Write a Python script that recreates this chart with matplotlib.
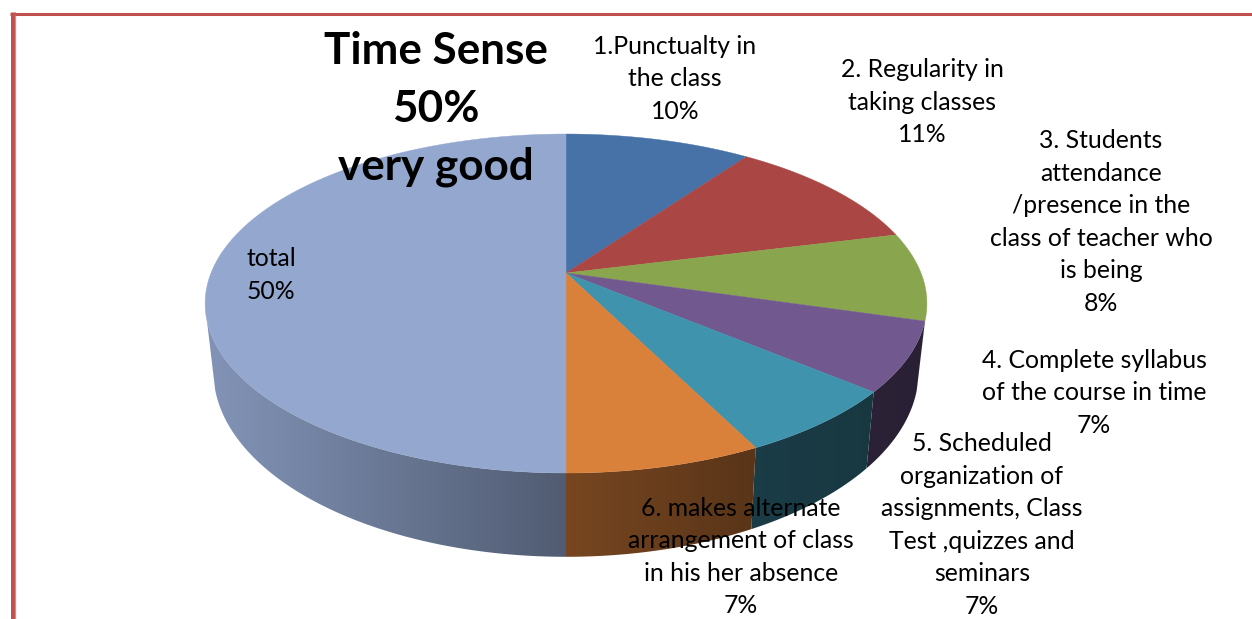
import numpy as np
import matplotlib
matplotlib.use('Agg')
import matplotlib.pyplot as plt
from matplotlib.patches import Polygon

# slice sizes (the printed labels are rounded)
values = [9.9, 11.2, 8.4, 6.6, 6.5, 7.4, 50.0]
labels = ['1.Punctualty in\nthe class\n10%',
          '2. Regularity in\ntaking classes\n11%',
          '3. Students\nattendance\n/presence in the\nclass of teacher who\nis being\n8%',
          '4. Complete syllabus\nof the course in time\n7%',
          '5. Scheduled\norganization of\nassignments, Class\nTest ,quizzes and\nseminars\n7%',
          '6. makes alternate\narrangement of class\nin his her absence\n7%',
          'total\n50%']
colors = ['#4672a8', '#aa4644', '#89a54e', '#71588f', '#4093ac', '#d9803b', '#93a7cf']
label_x = [675, 922, 1101, 1094, 982, 741, 271]
label_y = [79, 102, 222, 393, 525, 557, 275]
title = 'Time Sense\n50%\nvery good'

plt.rcParams['font.family'] = ['Lato', 'DejaVu Sans']

fig = plt.figure(figsize=(12.52, 6.19), dpi=100)
ax = fig.add_axes([0, 0, 1, 1])


cx, cy = 566, 273


# tilted pie: circle seen in perspective, angle measured clockwise from the top
def top_edge(theta):
    u, v = np.sin(theta), np.cos(theta)
    d = 1 + 0.18 * v
    return 355 * u / d, -164 * v / d


def bottom_edge(theta):
    x, y = top_edge(theta)
    return 0.977 * x, 1.094 * y + 65


def shade(x):
    return np.interp(x, [-353, 0, 190, 350], [0.88, 0.55, 0.41, 0.37])


edges = np.radians(np.cumsum([0] + values) * 3.6)
wall_from, wall_to = np.radians(106), np.radians(254)

# side wall first, a horizontal gradient clipped to each slice's wall
for i in range(len(values)):
    a = max(edges[i], wall_from)
    b = min(edges[i + 1], wall_to)
    if b <= a:
        continue
    ts = np.linspace(a, b, 200)
    xt, yt = top_edge(ts)
    xb, yb = bottom_edge(ts)
    px = np.r_[cx + xt, (cx + xb)[::-1]]
    py = np.r_[cy + yt, (cy + yb)[::-1]]
    x_left, x_right = px.min(), px.max()
    base = np.array(matplotlib.colors.to_rgb(colors[i]))
    xs = np.linspace(x_left, x_right, 400)
    grad = (base[None, :] * shade(xs - cx)[:, None])[None, :, :]
    im = ax.imshow(grad, extent=[x_left, x_right, py.max(), py.min()], aspect='auto',
                   interpolation='bilinear', zorder=1)
    patch = Polygon(np.c_[px, py], closed=True, transform=ax.transData, fc='none', ec='none')
    ax.add_patch(patch)
    im.set_clip_path(patch)

# top face
for i in range(len(values)):
    ts = np.linspace(edges[i], edges[i + 1], 120)
    x, y = top_edge(ts)
    ax.fill(np.r_[cx, cx + x], np.r_[cy, cy + y], color=colors[i], lw=0.3, zorder=2)

# page border, top and left only
ax.plot([10, 1252], [13.5, 13.5], color='#c0504d', lw=2.2, solid_capstyle='butt', zorder=3)
ax.plot([12.5, 12.5], [12, 619], color='#c0504d', lw=3.6, solid_capstyle='butt', zorder=3)
ax.plot([15, 15], [15, 619], color='#dc8583', lw=0.9, solid_capstyle='butt', zorder=3)

for s, x, y in zip(labels, label_x, label_y):
    ax.text(x, y, s, ha='center', va='center', fontsize=17.8, color='black',
            linespacing=1.5, zorder=4)

ax.text(436, 109, title, ha='center', va='center', fontsize=31.7, fontweight='bold',
        color='black', linespacing=1.53, zorder=4)

ax.set_xlim(0, 1252)
ax.set_ylim(619, 0)
ax.axis('off')

plt.savefig('out.png', dpi=100)
